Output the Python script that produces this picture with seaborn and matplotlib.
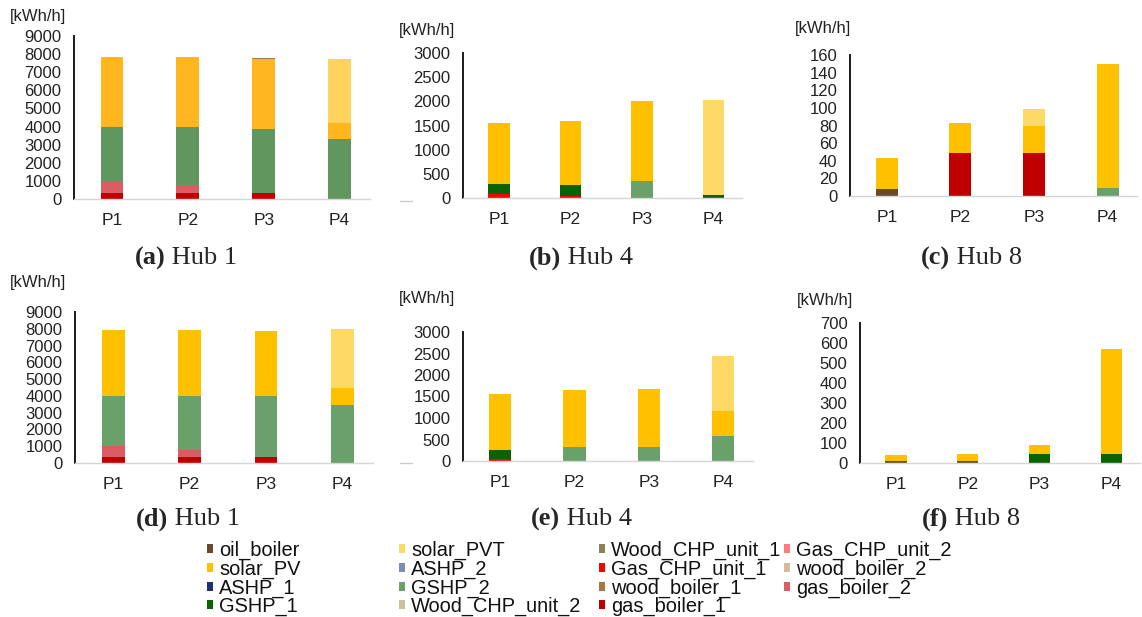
import matplotlib
matplotlib.use("Agg")
import matplotlib.pyplot as plt
import seaborn as sns
import numpy as np
from matplotlib.patches import Patch
from matplotlib.lines import Line2D

# ---------------------------------------------------------------- data
periods = ["P1", "P2", "P3", "P4"]

technologies = [
    "oil_boiler", "solar_PV", "ASHP_1", "GSHP_1",
    "solar_PVT", "ASHP_2", "GSHP_2", "Wood_CHP_unit_2",
    "Wood_CHP_unit_1", "Gas_CHP_unit_1", "wood_boiler_1", "gas_boiler_1",
    "Gas_CHP_unit_2", "wood_boiler_2", "gas_boiler_2",
]
tech_colors = [
    "#6b4a2b", "#ffc000", "#1f2f78", "#0b6200",
    "#ffd966", "#7c8db5", "#6aa06a", "#c9bf9f",
    "#8c8255", "#ff0000", "#a7773f", "#c00000",
    "#ff7c80", "#d4bc9a", "#dc5c64",
]
# the first Hub 1 chart was exported with a slightly warmer palette
hub1_a_colors = {"solar_PV": "#ffb61f", "GSHP_2": "#5f975f", "solar_PVT": "#ffd35e"}

# stacking order of the technologies, bottom to top
stack_order = [
    "gas_boiler_1", "Gas_CHP_unit_1", "gas_boiler_2", "oil_boiler",
    "GSHP_1", "GSHP_2", "solar_PV", "solar_PVT", "Wood_CHP_unit_1",
]

# hourly peak supply per technology [kWh/h]
hub1_a = {
    "gas_boiler_1": [350, 350, 350, 0],
    "gas_boiler_2": [650, 420, 0, 0],
    "GSHP_2": [3000, 3230, 3540, 3290],
    "solar_PV": [3850, 3850, 3830, 930],
    "solar_PVT": [0, 0, 0, 3500],
    "Wood_CHP_unit_1": [0, 0, 50, 0],
}
hub4_b = {
    "Gas_CHP_unit_1": [80, 45, 0, 0],
    "GSHP_1": [210, 225, 0, 60],
    "GSHP_2": [0, 0, 345, 0],
    "solar_PV": [1270, 1330, 1660, 0],
    "solar_PVT": [0, 0, 0, 1975],
}
hub8_c = {
    "oil_boiler": [8, 0, 0, 0],
    "gas_boiler_1": [0, 49, 49, 0],
    "GSHP_2": [0, 0, 0, 9],
    "solar_PV": [35, 34, 31, 141],
    "solar_PVT": [0, 0, 19, 0],
}
hub1_d = {
    "gas_boiler_1": [340, 340, 380, 0],
    "gas_boiler_2": [650, 450, 0, 0],
    "GSHP_2": [2990, 3190, 3600, 3480],
    "solar_PV": [3930, 3930, 3870, 990],
    "solar_PVT": [0, 0, 0, 3520],
}
hub4_e = {
    "Gas_CHP_unit_1": [55, 0, 0, 0],
    "GSHP_1": [210, 0, 0, 0],
    "GSHP_2": [0, 335, 335, 575],
    "solar_PV": [1290, 1310, 1350, 590],
    "solar_PVT": [0, 0, 0, 1275],
}
hub8_f = {
    "oil_boiler": [10, 10, 0, 0],
    "GSHP_1": [0, 0, 45, 45],
    "solar_PV": [32, 35, 43, 527],
}

panel_letters = ["a", "b", "c", "d", "e", "f"]
panel_hubs = ["Hub 1", "Hub 4", "Hub 8", "Hub 1", "Hub 4", "Hub 8"]
panel_data = [hub1_a, hub4_b, hub8_c, hub1_d, hub4_e, hub8_f]
panel_ymax = [9000, 3000, 160, 9000, 3000, 700]
panel_ystep = [1000, 500, 20, 1000, 500, 100]

# ---------------------------------------------------------------- layout (pixels)
W, H = 1142, 617
# left, right, top, bottom of each plotting area
boxes = [
    (74, 370, 36, 199), (463, 742, 53, 198), (850, 1137, 55, 196),
    (75, 373, 312, 463), (463, 753, 332, 461), (860, 1140, 323, 463),
]
unit_pos = [(10, 17), (399, 31), (795, 28), (10, 283), (399, 299), (797, 300)]
caption_pos = [(186, 258), (581, 258), (972, 258), (188, 519), (581, 519), (971, 519)]

sns.set_theme(style="white")
plt.rcParams["font.family"] = ["Liberation Sans", "DejaVu Sans"]

fig = plt.figure(figsize=(W / 100, H / 100), dpi=100)
fig.patch.set_facecolor("white")
color_of = dict(zip(technologies, tech_colors))


def px_axes(l, r, t, b):
    return fig.add_axes([l / W, 1 - b / H, (r - l) / W, (b - t) / H])


for i, data in enumerate(panel_data):
    ax = px_axes(*boxes[i])
    colors = dict(color_of)
    if i == 0:
        colors.update(hub1_a_colors)
    layers = [k for k in stack_order if k in data]
    cum = np.zeros(len(periods))
    cumulative = []
    for k in layers:
        cum = cum + np.array(data[k], dtype=float)
        cumulative.append((k, cum.copy()))
    # draw from the top of the stack down so each lower layer covers the one above
    for k, heights in reversed(cumulative):
        sns.barplot(x=periods, y=heights, color=colors[k], saturation=1,
                    width=0.3, linewidth=0, ax=ax)
    ax.set_xlim(-0.5, 3.4)
    ax.set_ylim(0, panel_ymax[i])
    ax.set_yticks(np.arange(0, panel_ymax[i] + 1, panel_ystep[i]))
    ax.set_xlabel("")
    ax.set_ylabel("")
    for s in ("top", "right"):
        ax.spines[s].set_visible(False)
    ax.spines["left"].set_color("#1a1a1a")
    ax.spines["left"].set_linewidth(1.4)
    ax.spines["bottom"].set_color("#d6d6d6")
    ax.spines["bottom"].set_linewidth(1.0)
    ax.tick_params(axis="y", length=0, pad=9, labelsize=12, labelcolor="#222222")
    ax.tick_params(axis="x", length=0, pad=10, labelsize=12.5, labelcolor="#222222")
    ax.set_facecolor("white")

    ux, uy = unit_pos[i]
    fig.text(ux / W, 1 - uy / H, "[kWh/h]", fontsize=12, color="#222222",
             ha="left", va="center")

# captions: bold panel letter followed by the hub name
renderer = fig.canvas.get_renderer()
for i in range(6):
    cx, cy = caption_pos[i]
    t1 = fig.text(0, 1 - cy / H, f"({panel_letters[i]})", fontsize=19,
                  family="Liberation Serif", weight="bold", ha="left", va="center")
    t2 = fig.text(0, 1 - cy / H, " " + panel_hubs[i], fontsize=19,
                  family="Liberation Serif", ha="left", va="center")
    w1 = t1.get_window_extent(renderer).width
    w2 = t2.get_window_extent(renderer).width
    x0 = cx - (w1 + w2) / 2
    t1.set_x(x0 / W)
    t2.set_x((x0 + w1) / W)

# small grey strokes at the left of the Hub 4 panels
for y in (201, 463):
    fig.add_artist(Line2D([400 / W, 412 / W], [1 - y / H, 1 - y / H],
                          transform=fig.transFigure, color="#cccccc", lw=1))

# legend in four columns
col_x = [207, 399, 599, 784]
col_items = [technologies[0:4], technologies[4:8], technologies[8:12], technologies[12:15]]
for x, items in zip(col_x, col_items):
    handles = [Patch(facecolor=color_of[k], edgecolor="none") for k in items]
    fig.legend(handles, items, loc="upper left",
               bbox_to_anchor=(x / W, 1 - 541 / H), bbox_transform=fig.transFigure,
               frameon=False, fontsize=14.4, handlelength=0.32, handleheight=0.32,
               handletextpad=0.3, labelspacing=-0.03, borderpad=0, borderaxespad=0,
               labelcolor="#111111")

fig.savefig("out.png", dpi=100, facecolor="white")
